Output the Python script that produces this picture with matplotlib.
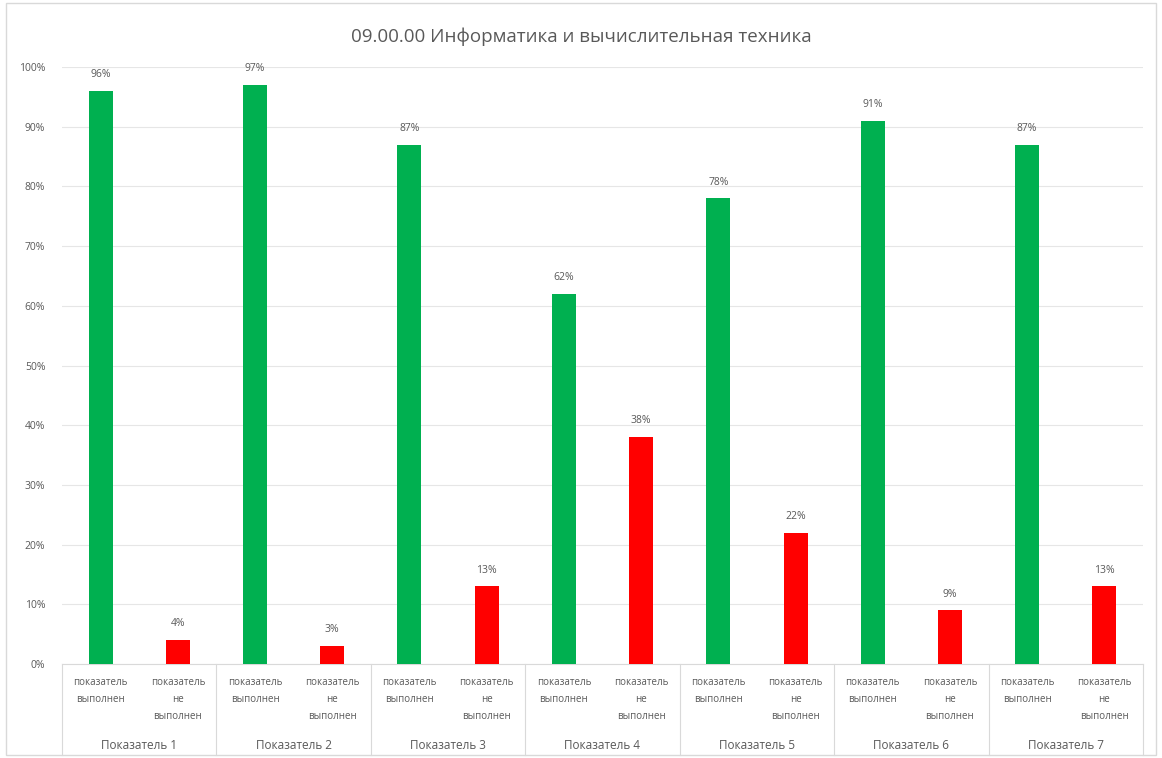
import numpy as np
import matplotlib
matplotlib.use("Agg")
import matplotlib.pyplot as plt
from matplotlib.patches import Rectangle

plt.rcParams['font.family'] = ['Open Sans', 'DejaVu Sans']

# data
groups = ["Показатель 1", "Показатель 2", "Показатель 3", "Показатель 4",
          "Показатель 5", "Показатель 6", "Показатель 7"]
done = [96, 97, 87, 62, 78, 91, 87]
not_done = [4, 3, 13, 38, 22, 9, 13]
sub_labels = ["показатель\nвыполнен", "показатель\nне\nвыполнен"]
title = "09.00.00 Информатика и вычислительная техника"

green = "#00B050"
red = "#FF0000"
txt = "#595959"

fig = plt.figure(figsize=(11.62, 7.58), dpi=100)
ax = fig.add_axes([62 / 1162, 94 / 758, 1081 / 1162, 597 / 758])

# outer chart border
fig.patches.append(Rectangle((6 / 1162, 3 / 758), 1150 / 1162, 752 / 758,
                             transform=fig.transFigure, fill=False,
                             edgecolor="#d9d9d9", linewidth=1))

# interleave: выполнен / не выполнен for each indicator
values = []
colors = []
for d, n in zip(done, not_done):
    values += [d, n]
    colors += [green, red]
x = np.arange(len(values))

bars = ax.bar(x, values, width=0.31, color=colors, zorder=3)
for xi, v in zip(x, values):
    ax.text(xi, v + 1.8, f"{v}%", ha="center", va="bottom", fontsize=7.5, color=txt)

ax.set_xlim(-0.5, len(values) - 0.5)
ax.set_ylim(0, 100)
ax.set_yticks(np.arange(0, 101, 10))
ax.set_yticklabels([f"{t}%" for t in range(0, 101, 10)], fontsize=7.5, color=txt)
ax.tick_params(axis="y", length=0, pad=12)
ax.set_xticks([])
ax.grid(axis="y", color="#e6e6e6", linewidth=0.8, zorder=0)
for s in ["top", "right", "left"]:
    ax.spines[s].set_visible(False)
ax.spines["bottom"].set_color("#d9d9d9")

# category labels (two levels)
trans = ax.get_xaxis_transform()
for i, xi in enumerate(x):
    ax.text(xi, -0.022, sub_labels[i % 2], ha="center", va="top", fontsize=7,
            color=txt, transform=trans, linespacing=1.75)
for g, name in enumerate(groups):
    ax.text(2 * g + 0.5, -0.137, name, ha="center", va="center", fontsize=8.5,
            color=txt, transform=trans)
for b in range(len(groups) + 1):
    ax.plot([2 * b - 0.5, 2 * b - 0.5], [0, -0.152], color="#d9d9d9",
            linewidth=0.8, transform=trans, clip_on=False)

fig.text(0.5, 1 - 37 / 758, title, ha="center", va="center", fontsize=13.5, color=txt)

fig.savefig("out.png", dpi=100)
